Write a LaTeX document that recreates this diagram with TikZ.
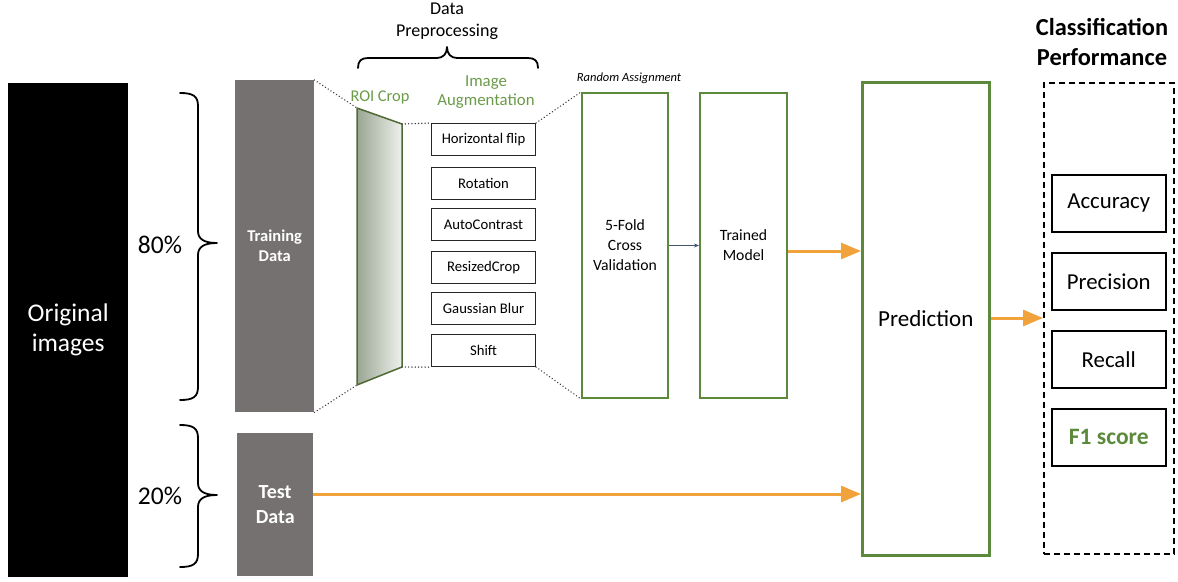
\documentclass[tikz,border=0pt]{standalone}
\usepackage{fontspec}
\setmainfont{Carlito}
\usetikzlibrary{arrows.meta}
\definecolor{ogreen}{HTML}{5B8A3C}
\definecolor{tgreen}{HTML}{6A9A48}
\definecolor{dgray}{HTML}{767171}
\definecolor{orng}{HTML}{F2A23A}
\definecolor{slate}{HTML}{44546A}
\definecolor{trapL}{HTML}{9AA693}
\definecolor{trapR}{HTML}{EEF1EC}
\definecolor{trapB}{HTML}{4E6B35}
\begin{document}
\begin{tikzpicture}[x=1pt,y=-1pt,
  box/.style={rectangle, inner sep=0pt, anchor=north west, align=center},
  grnbox/.style={box, draw=ogreen, line width=2pt, fill=white},
  augbox/.style={box, draw=black!85, line width=1.1pt, minimum width=104pt, minimum height=32pt, font=\fontsize{14.7}{17}\selectfont},
  metbox/.style={box, draw=black, line width=1.5pt, minimum width=114pt, minimum height=57pt, font=\fontsize{22.8}{26}\selectfont},
  grayblk/.style={box, fill=dgray, text=white, font=\bfseries},
  dotline/.style={draw=black!75, line width=1.5pt, dash pattern=on 0.1pt off 3.2pt, line cap=round},
  orarrow/.style={draw=orng, line width=3pt, -{Triangle[length=20pt,width=16pt]}},
  bracestyle/.style={draw=black, line width=1.8pt, line cap=round, line join=round}
]
\useasboundingbox (0,0) rectangle (1178,581);

% left blocks
\node[box, fill=black, text=white, minimum width=120pt, minimum height=494pt,
      font=\fontsize{25.5}{30}\selectfont] (orig) at (8,83) {Original\\images};
\node[grayblk, minimum width=79pt, minimum height=332pt, font=\bfseries\fontsize{16.5}{20}\selectfont] (train) at (235,80) {Training\\Data};
\node[grayblk, minimum width=76pt, minimum height=143pt, font=\bfseries\fontsize{20}{25}\selectfont] (test) at (237,433) {Test\\Data};

% braces
\draw[bracestyle] (180,93) .. controls (193,93) and (198,96) .. (198,106) -- (198,231)
  .. controls (198,239) and (204,243) .. (217,243)
  .. controls (204,243) and (198,247) .. (198,255) -- (198,387)
  .. controls (198,397) and (193,400) .. (180,400);
\draw[bracestyle] (180,425) .. controls (193,425) and (198,428) .. (198,438) -- (198,483)
  .. controls (198,491) and (204,495) .. (217,495)
  .. controls (204,495) and (198,499) .. (198,507) -- (198,554)
  .. controls (198,564) and (193,567) .. (180,567);
\node[font=\fontsize{25.5}{30}\selectfont] (p80) at (160,245) {80\%};
\node[font=\fontsize{25.5}{30}\selectfont] (p20) at (160,496) {20\%};

% data preprocessing brace
\draw[bracestyle] (358,68) .. controls (358,61) and (361,58) .. (368,58) -- (437,58)
  .. controls (443,58) and (447,54) .. (447,47)
  .. controls (447,54) and (451,58) .. (457,58) -- (528,58)
  .. controls (535,58) and (538,61) .. (538,68);
\node[align=center, font=\fontsize{18}{22}\selectfont] (dp) at (447,21) {Data\\Preprocessing};

% ROI crop trapezoid
\coordinate (rtl) at (357,108);
\coordinate (rtr) at (402,124);
\coordinate (rbr) at (402,367);
\coordinate (rbl) at (357,385);
\path[draw=trapB, line width=1.5pt, left color=trapL, right color=trapR, line join=round]
  (rtl) -- (rtr) -- (rbr) -- (rbl) -- cycle;
\node[text=tgreen, font=\fontsize{16.4}{19}\selectfont] (roi) at (380,97) {ROI Crop};
\node[text=tgreen, align=center, font=\fontsize{16.8}{19.5}\selectfont] (iaug) at (486,92) {Image\\Augmentation};

% augmentation boxes
\node[augbox] (a1) at (431,123) {Horizontal flip};
\node[augbox] (a2) at (431,167) {Rotation};
\node[augbox] (a3) at (431,208) {AutoContrast};
\node[augbox] (a4) at (431,251) {ResizedCrop};
\node[augbox] (a5) at (431,292) {Gaussian Blur};
\node[augbox] (a6) at (431,334) {Shift};

% CV and trained model
\node[grnbox, minimum width=86pt, minimum height=305pt, font=\fontsize{15.7}{20}\selectfont] (cv) at (581,92) {5-Fold\\Cross\\Validation};
\node[grnbox, minimum width=87pt, minimum height=305pt, font=\fontsize{15.7}{20}\selectfont] (tm) at (699,92) {Trained\\Model};
\node[font=\itshape\fontsize{12.5}{14}\selectfont] (ra) at (629,78) {Random Assignment};

% prediction
\node[grnbox, line width=2.5pt, minimum width=127pt, minimum height=473pt, font=\fontsize{23}{27}\selectfont] (pred) at (861,81) {Prediction};

% performance
\node[align=center, font=\bfseries\fontsize{24.4}{30}\selectfont] (cp) at (1102,42) {Classification\\Performance};
\node[box, draw=black, line width=1.5pt, dash pattern=on 6pt off 4pt, minimum width=130pt, minimum height=471pt] (perf) at (1043,82) {};
\node[metbox] (acc) at (1051,174) {Accuracy};
\node[metbox] (prec) at (1051,252) {Precision};
\node[metbox] (rec) at (1051,330) {Recall};
\node[metbox, text=ogreen, font=\bfseries\fontsize{23.5}{27}\selectfont] (f1) at (1051,408) {F1 score};

% dotted connectors
\draw[dotline] (train.north east) -- (rtl);
\draw[dotline] (train.south east) -- (rbl);
\draw[dotline] (rtr) -- (a1.north west);
\draw[dotline] (rbr) -- (a6.south west);
\draw[dotline] (a1.north east) -- (cv.north west);
\draw[dotline] (a6.south east) -- (cv.south west);

% arrows
\draw[draw=slate, line width=0.6pt, -{Stealth[length=5pt,width=4pt]}] (cv.east) -- (tm.west);
\coordinate (tmo) at (786,251);
\draw[orarrow] (tm.east |- tmo) -- (pred.west |- tmo);
\coordinate (pro) at (988,318);
\draw[orarrow] (pred.east |- pro) -- (perf.west |- pro);
\coordinate (teo) at (313,494);
\draw[orarrow] (test.east |- teo) -- (pred.west |- teo);
\end{tikzpicture}
\end{document}
